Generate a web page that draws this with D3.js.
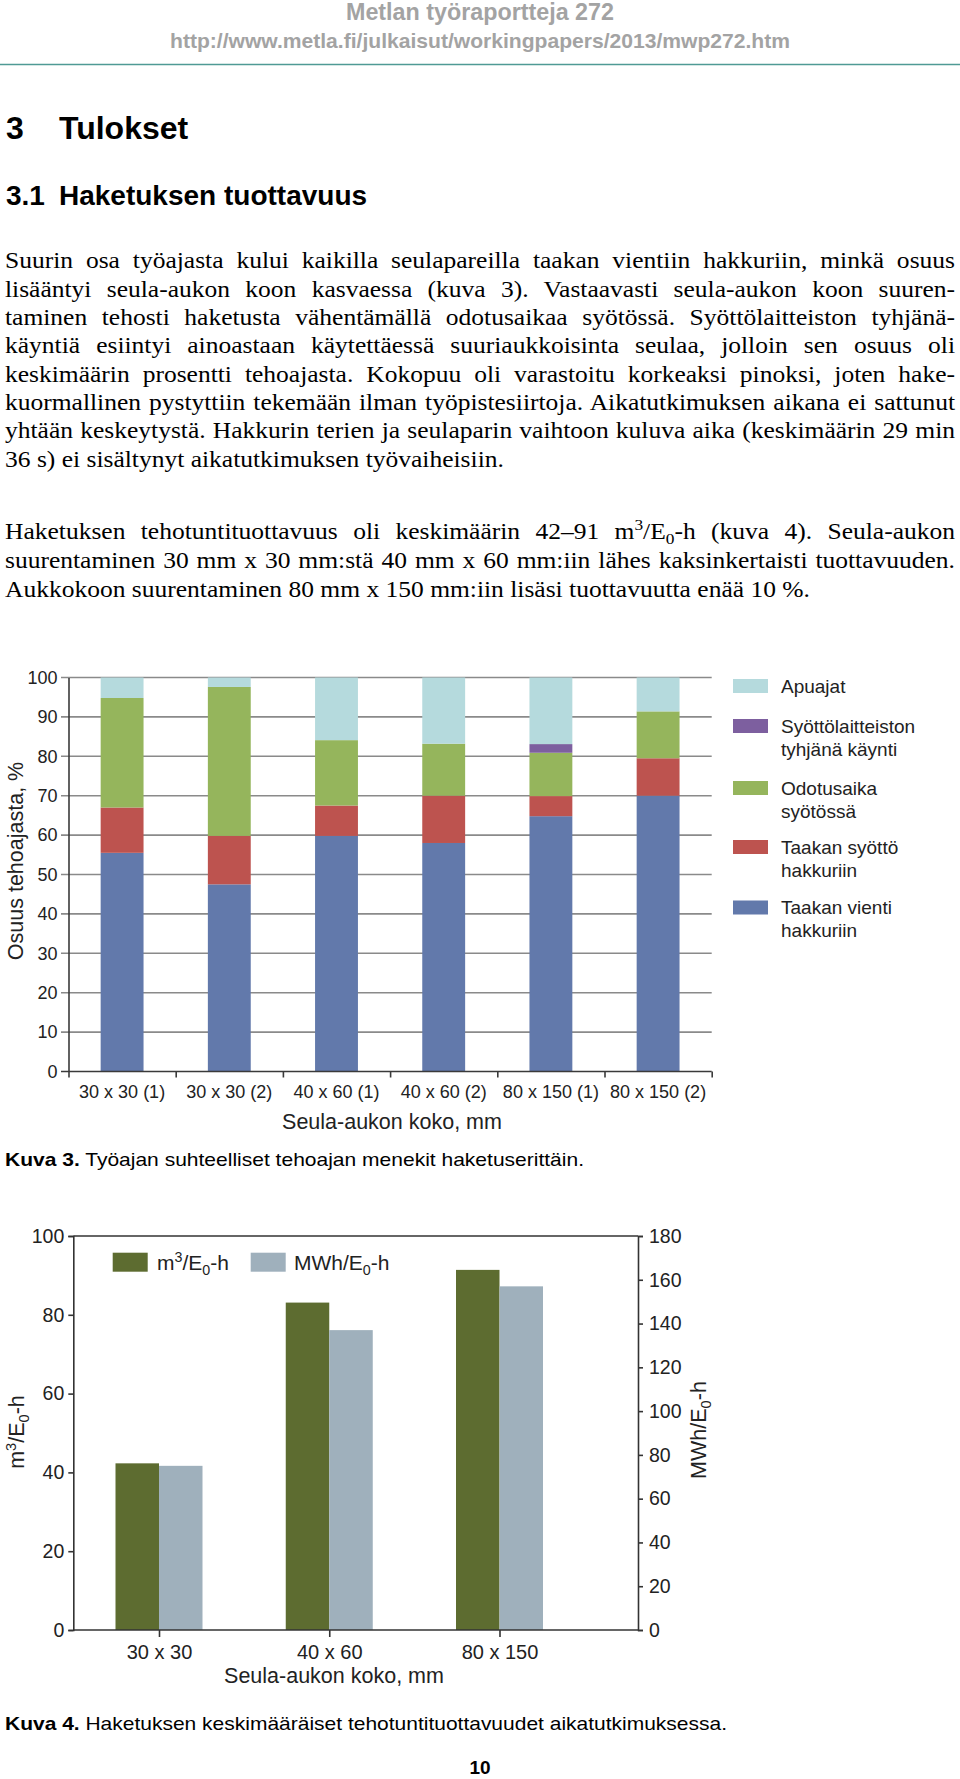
<!DOCTYPE html>
<html><head><meta charset="utf-8">
<script src="https://cdn.jsdelivr.net/npm/d3@7"></script>
<style>html,body{margin:0;padding:0;background:#fff}svg{display:block}</style>
</head><body>
<script>
// ---------- DATA ----------
const categories1 = ["30 x 30 (1)","30 x 30 (2)","40 x 60 (1)","40 x 60 (2)","80 x 150 (1)","80 x 150 (2)"];
const taakanVienti   = [55.5, 47.5, 59.8, 58.0, 64.8, 70.0];
const taakanSyotto   = [11.5, 12.3, 7.7, 12.0, 5.1, 9.5];
const odotusaika     = [27.8, 37.8, 16.6, 13.2, 11.0, 11.9];
const syottoTyhja    = [0, 0, 0, 0, 2.2, 0];
const apuajat        = [5.2, 2.4, 15.9, 16.8, 16.9, 8.6];
const ticks1 = [0,10,20,30,40,50,60,70,80,90,100];
const legend1 = [["Apuajat"],["Syöttölaitteiston","tyhjänä käynti"],["Odotusaika","syötössä"],["Taakan syöttö","hakkuriin"],["Taakan vienti","hakkuriin"]];

const categories2 = ["30 x 30","40 x 60","80 x 150"];
const m3PerHour  = [42.3, 83.1, 91.4];
const mwhPerHour = [75, 137, 157];
const ticksLeft2  = [0,20,40,60,80,100];
const ticksRight2 = [0,20,40,60,80,100,120,140,160,180];

const para1 = [
 "Suurin osa työajasta kului kaikilla seulapareilla taakan vientiin hakkuriin, minkä osuus",
 "lisääntyi seula-aukon koon kasvaessa (kuva 3). Vastaavasti seula-aukon koon suuren-",
 "taminen tehosti haketusta vähentämällä odotusaikaa syötössä. Syöttölaitteiston tyhjänä-",
 "käyntiä esiintyi ainoastaan käytettäessä suuriaukkoisinta seulaa, jolloin sen osuus oli",
 "keskimäärin prosentti tehoajasta. Kokopuu oli varastoitu korkeaksi pinoksi, joten hake-",
 "kuormallinen pystyttiin tekemään ilman työpistesiirtoja. Aikatutkimuksen aikana ei sattunut",
 "yhtään keskeytystä. Hakkurin terien ja seulaparin vaihtoon kuluva aika (keskimäärin 29 min",
 "36 s) ei sisältynyt aikatutkimuksen työvaiheisiin."
];
const para2 = [
 [{t:"Haketuksen tehotuntituottavuus oli keskimäärin 42–91 m"},{t:"3",sup:1},{t:"/E"},{t:"0",sub:1},{t:"-h (kuva 4). Seula-aukon"}],
 [{t:"suurentaminen 30 mm x 30 mm:stä 40 mm x 60 mm:iin lähes kaksinkertaisti tuottavuuden."}],
 [{t:"Aukkokoon suurentaminen 80 mm x 150 mm:iin lisäsi tuottavuutta enää 10 %."}]
];

// ---------- HELPERS ----------
const SANS = "'Liberation Sans', Arial, Helvetica, sans-serif";
const SERIF = "'Liberation Serif', 'Times New Roman', serif";
const svg = d3.select("body").append("svg").attr("width",960).attr("height",1779);

function addText(parent, x, y, segs, o={}) {
  const size = o.size || 16;
  const t = parent.append("text").attr("x", x).attr("y", y)
    .attr("font-family", o.family || SANS).attr("font-size", size)
    .attr("fill", o.fill || "#000").attr("font-weight", o.weight || "normal");
  if (o.anchor) t.attr("text-anchor", o.anchor);
  if (o.transform) t.attr("transform", o.transform);
  if (typeof segs === "string") segs = [{t:segs}];
  let shift = 0;
  segs.forEach(s => {
    const ts = t.append("tspan").text(s.t);
    if (s.weight) ts.attr("font-weight", s.weight);
    let target = 0;
    if (s.sup) { target = -0.38*size; ts.attr("font-size", size*0.68); }
    if (s.sub) { target = 0.22*size; ts.attr("font-size", size*0.68); }
    if (target !== shift) { ts.attr("dy", target - shift); shift = target; }
  });
  if (o.justify) {
    const w = t.node().getComputedTextLength();
    const str = segs.map(s=>s.t).join("");
    const n = (str.match(/ /g) || []).length;
    if (n > 0) t.attr("word-spacing", (o.justify - w) / n);
  }
  if (o.width) t.attr("textLength", o.width).attr("lengthAdjust","spacingAndGlyphs");
  return t;
}

// ---------- PAGE HEADER ----------
addText(svg, 480, 20, "Metlan työraportteja 272", {size:23, weight:"bold", fill:"#a3a3a3", anchor:"middle", width:268});
addText(svg, 480, 48, "http://www.metla.fi/julkaisut/workingpapers/2013/mwp272.htm", {size:20.5, weight:"bold", fill:"#a3a3a3", anchor:"middle", width:620});
svg.append("line").attr("x1",0).attr("x2",960).attr("y1",64.5).attr("y2",64.5).attr("stroke","#4f9a95").attr("stroke-width",1.5);

addText(svg, 6, 139, "3", {size:32, weight:"bold"});
addText(svg, 59, 139, "Tulokset", {size:32, weight:"bold"});
addText(svg, 6, 205, "3.1", {size:28, weight:"bold"});
addText(svg, 59, 205, "Haketuksen tuottavuus", {size:28, weight:"bold"});

// paragraphs (source text is slightly wide: horizontal stretch sx)
const textLeft = 5, textRight = 955, sx = 1.11, pSize = 23;
para1.forEach((line, i) => {
  const last = i === para1.length - 1;
  const g = svg.append("g").attr("transform", `translate(${textLeft},${268.3 + i*28.35}) scale(${sx},1)`);
  addText(g, 0, 0, line, {size:pSize, family:SERIF, justify: last ? null : (textRight - textLeft)/sx});
});
para2.forEach((segs, i) => {
  const last = i === para2.length - 1;
  const g = svg.append("g").attr("transform", `translate(${textLeft},${538.5 + i*29}) scale(${sx},1)`);
  addText(g, 0, 0, segs, {size:pSize, family:SERIF, justify: last ? null : (textRight - textLeft)/sx});
});

// ---------- CHART 1 ----------
const c1 = svg.append("g");
const x1 = d3.scaleBand().domain(categories1).range([68.5, 711.7]).padding(0);
const y1 = d3.scaleLinear().domain([0,100]).range([1071.5, 677.5]);
const barW1 = x1.bandwidth()*0.4;

c1.append("g").selectAll("line").data(ticks1.filter(d=>d>0)).join("line")
  .attr("x1", 61).attr("x2", 711.7).attr("y1", d=>y1(d)).attr("y2", d=>y1(d))
  .attr("stroke","#8a8a8a").attr("stroke-width",1.6);

const stackKeys = ["vienti","syotto","odotus","tyhja","apu"];
const colors1 = {vienti:"#6279ab", syotto:"#bd534f", odotus:"#95b55c", tyhja:"#7d5f9f", apu:"#b5dadd"};
const rows1 = categories1.map((c,i)=>({cat:c, vienti:taakanVienti[i], syotto:taakanSyotto[i], odotus:odotusaika[i], tyhja:syottoTyhja[i], apu:apuajat[i]}));
const stacked = d3.stack().keys(stackKeys)(rows1);
stacked.forEach(layer => {
  c1.append("g").attr("fill", colors1[layer.key]).selectAll("rect").data(layer).join("rect")
    .attr("x", d => x1(d.data.cat) + (x1.bandwidth()-barW1)/2)
    .attr("width", barW1)
    .attr("y", d => y1(Math.min(100,d[1])))
    .attr("height", d => Math.max(0, y1(d[0]) - y1(Math.min(100,d[1]))));
});

const ya1 = c1.append("g").attr("transform","translate(68.5,0)")
  .call(d3.axisLeft(y1).tickValues(ticks1).tickSize(0).tickPadding(11).tickFormat(d3.format("d")));
ya1.select(".domain").attr("stroke","#3a3a3a").attr("stroke-width",1.6);
ya1.selectAll("text").attr("font-family",SANS).attr("font-size",18).attr("fill","#222");
const xb = d3.scaleLinear().domain([0,6]).range([68.5,711.7]);
const xa1 = c1.append("g").attr("transform","translate(0,1071.5)")
  .call(d3.axisBottom(xb).tickValues([0,1,2,3,4,5,6]).tickSize(6).tickFormat(""));
xa1.select(".domain").attr("stroke","#3a3a3a").attr("stroke-width",1.6).attr("d","M61,0H711.7");
xa1.selectAll(".tick line").attr("stroke","#3a3a3a").attr("stroke-width",1.6);
const xl1 = c1.append("g").attr("transform","translate(0,1071.5)")
  .call(d3.axisBottom(x1).tickSize(0).tickPadding(14));
xl1.select(".domain").remove();
xl1.selectAll("text").attr("font-family",SANS).attr("font-size",18).attr("fill","#222");

addText(c1, 392, 1129, "Seula-aukon koko, mm", {size:21.5, anchor:"middle", fill:"#222"});
addText(c1, 0, 0, "Osuus tehoajasta, %", {size:21.5, anchor:"middle", fill:"#222", transform:"translate(23,861) rotate(-90)"});

const legColors = [colors1.apu, colors1.tyhja, colors1.odotus, colors1.syotto, colors1.vienti];
const legTop = [679, 719, 781, 840, 900.5];
legend1.forEach((lines, i) => {
  c1.append("rect").attr("x",733).attr("y",legTop[i]).attr("width",35).attr("height",14).attr("fill",legColors[i]);
  lines.forEach((l, j) => addText(c1, 781, legTop[i]+13.5 + j*23.3, l, {size:19, fill:"#222"}));
});

addText(svg, 5, 1166, [{t:"Kuva 3.",weight:"bold"},{t:" Työajan suhteelliset tehoajan menekit haketuserittäin."}], {size:19, width:579});

// ---------- CHART 2 ----------
const c2 = svg.append("g");
const x2 = d3.scalePoint().domain(categories2).range([159, 499.5]);
const yL = d3.scaleLinear().domain([0,100]).range([1630, 1236]);
const yR = d3.scaleLinear().domain([0,180]).range([1630, 1236]);
const bw2 = 43.5;
const green2 = "#5d6c30", gray2 = "#9fb0bc";

c2.append("g").selectAll("rect").data(categories2).join("rect")
  .attr("x", d => x2(d) - bw2).attr("width", bw2)
  .attr("y", (d,i) => yL(m3PerHour[i])).attr("height", (d,i) => yL(0) - yL(m3PerHour[i]))
  .attr("fill", green2);
c2.append("g").selectAll("rect").data(categories2).join("rect")
  .attr("x", d => x2(d)).attr("width", bw2)
  .attr("y", (d,i) => yR(mwhPerHour[i])).attr("height", (d,i) => yR(0) - yR(mwhPerHour[i]))
  .attr("fill", gray2);

const axCol = "#333";
const xRight = 638;
const yaL = c2.append("g").attr("transform","translate(73.3,0)")
  .call(d3.axisLeft(yL).tickValues(ticksLeft2).tickSize(5).tickPadding(4).tickFormat(d3.format("d")));
const yaR = c2.append("g").attr("transform",`translate(${xRight},0)`)
  .call(d3.axisRight(yR).tickValues(ticksRight2).tickSize(5).tickPadding(6).tickFormat(d3.format("d")));
const xa2 = c2.append("g").attr("transform","translate(0,1630)")
  .call(d3.axisBottom(x2).tickSize(7).tickPadding(8));
xa2.select(".domain").attr("d",`M73.3,0H${xRight}`);
c2.append("line").attr("x1",73.3).attr("x2",xRight).attr("y1",1236).attr("y2",1236).attr("stroke",axCol).attr("stroke-width",1.6);
[yaL, yaR, xa2].forEach(a => {
  a.select(".domain").attr("stroke",axCol).attr("stroke-width",1.6);
  a.selectAll(".tick line").attr("stroke",axCol).attr("stroke-width",1.6);
  a.selectAll("text").attr("font-family",SANS).attr("font-size",19.5).attr("fill","#222");
});
xa2.selectAll("text").attr("font-size",20);

addText(c2, 334, 1683, "Seula-aukon koko, mm", {size:21.5, anchor:"middle", fill:"#222"});
addText(c2, 0, 0, [{t:"m"},{t:"3",sup:1},{t:"/E"},{t:"0",sub:1},{t:"-h"}], {size:21.5, anchor:"middle", fill:"#222", transform:"translate(24,1432) rotate(-90)"});
addText(c2, 0, 0, [{t:"MWh/E"},{t:"0",sub:1},{t:"-h"}], {size:21.5, anchor:"middle", fill:"#222", transform:"translate(706,1430) rotate(-90)"});

c2.append("rect").attr("x",112.7).attr("y",1252.7).attr("width",35).attr("height",19).attr("fill",green2);
addText(c2, 157, 1270, [{t:"m"},{t:"3",sup:1},{t:"/E"},{t:"0",sub:1},{t:"-h"}], {size:21, fill:"#222"});
c2.append("rect").attr("x",250.7).attr("y",1252.7).attr("width",35).attr("height",19).attr("fill",gray2);
addText(c2, 294, 1270, [{t:"MWh/E"},{t:"0",sub:1},{t:"-h"}], {size:21, fill:"#222"});

addText(svg, 5, 1730, [{t:"Kuva 4.",weight:"bold"},{t:" Haketuksen keskimääräiset tehotuntituottavuudet aikatutkimuksessa."}], {size:19, width:722});

addText(svg, 480, 1774, "10", {size:19, weight:"bold", anchor:"middle"});
</script>
</body></html>
